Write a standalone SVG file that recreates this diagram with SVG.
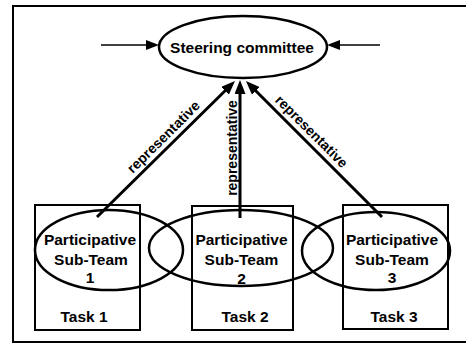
<svg xmlns="http://www.w3.org/2000/svg" width="466" height="345" viewBox="0 0 466 345">
  <style>
    .frame { fill: none; stroke: #000; stroke-width: 2; }
    .box { fill: none; stroke: #000; stroke-width: 2; }
    .oval { fill: none; stroke: #000; stroke-width: 2.5; }
    .lbl { font-family: "Liberation Sans", Arial, sans-serif; font-weight: bold; font-size: 15.5px; fill: #000; text-anchor: middle; }
    .rep { font-family: "Liberation Sans", Arial, sans-serif; font-weight: bold; font-size: 14px; fill: #000; text-anchor: middle; }
    .link { fill: none; stroke: #000; stroke-width: 3; marker-end: url(#head); }
    .feed { fill: none; stroke: #000; stroke-width: 1.5; marker-end: url(#headSmall); }
  </style>
  <defs>
    <marker id="head" viewBox="0 0 14 11" refX="8" refY="5.5" markerWidth="14" markerHeight="11" markerUnits="userSpaceOnUse" orient="auto">
      <path d="M0,0 L14,5.5 L0,11 z" fill="#000"/>
    </marker>
    <marker id="headSmall" viewBox="0 0 13 10" refX="7" refY="5" markerWidth="13" markerHeight="10" markerUnits="userSpaceOnUse" orient="auto">
      <path d="M0,0 L13,5 L0,10 z" fill="#000"/>
    </marker>
  </defs>

  <rect width="466" height="345" fill="#fff"/>
  <!-- outer frame (right edge runs off the sheet) -->
  <path class="frame" d="M470,6 H13 V342 H470"/>

  <g id="steering">
    <ellipse class="oval" cx="243" cy="47" rx="84" ry="31"/>
    <text class="lbl" x="242" y="53">Steering committee</text>
  </g>

  <g id="task1">
    <rect class="box" x="35" y="205" width="105" height="125"/>
    <text class="lbl" x="84" y="322">Task 1</text>
  </g>
  <g id="task2">
    <rect class="box" x="192" y="206" width="101" height="124"/>
    <text class="lbl" x="245" y="322">Task 2</text>
  </g>
  <g id="task3">
    <rect class="box" x="343" y="205" width="105" height="124"/>
    <text class="lbl" x="394" y="322">Task 3</text>
  </g>

  <g id="subteam1">
    <ellipse class="oval" cx="109" cy="250" rx="74" ry="40"/>
    <text class="lbl" x="90" y="245">Participative</text>
    <text class="lbl" x="91" y="265">Sub-Team</text>
    <text class="lbl" x="90" y="283">1</text>
  </g>
  <g id="subteam2">
    <ellipse class="oval" cx="241" cy="248" rx="92" ry="38"/>
    <text class="lbl" x="241.5" y="245">Participative</text>
    <text class="lbl" x="241.5" y="265">Sub-Team</text>
    <text class="lbl" x="241.5" y="284">2</text>
  </g>
  <g id="subteam3">
    <ellipse class="oval" cx="376" cy="251" rx="74" ry="39"/>
    <text class="lbl" x="392" y="245">Participative</text>
    <text class="lbl" x="392" y="265">Sub-Team</text>
    <text class="lbl" x="392" y="283">3</text>
  </g>

  <g id="connectors">
    <path class="feed" d="M101,45 H153"/>
    <path class="feed" d="M380,45 H333"/>
    <path class="link" d="M97,217 L230.7,85.2"/>
    <path class="link" d="M240,218 V86"/>
    <path class="link" d="M382,217 L250.2,85.2"/>
    <text class="rep" transform="translate(164,137.5) rotate(-44.8)" y="4">representative</text>
    <text class="rep" transform="translate(233,148) rotate(-90)" y="4">representative</text>
    <text class="rep" transform="translate(311,132) rotate(45)" y="4">representative</text>
  </g>
</svg>
